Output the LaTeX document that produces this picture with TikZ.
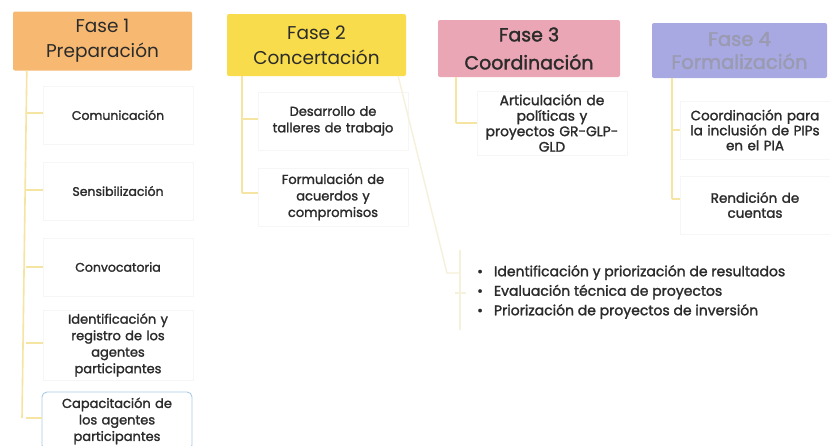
\documentclass[tikz,border=0pt]{standalone}
\usepackage{fontspec}
\setmainfont{Poppins}
\newfontfamily\semib{Poppins}[FakeBold=1.6]
\usetikzlibrary{calc}
\definecolor{cOrange}{HTML}{F7B972}
\definecolor{cYellow}{HTML}{F8DC4C}
\definecolor{cPink}{HTML}{EBA6B5}
\definecolor{cBlue}{HTML}{A8A8E2}
\definecolor{cLine}{HTML}{F6E4A2}
\definecolor{cFaint}{HTML}{F6F1DA}
\definecolor{cBoxEdge}{HTML}{F6F6F6}
\definecolor{cCapEdge}{HTML}{A9CBE6}
\definecolor{cText}{HTML}{2B2B2B}
\definecolor{cHdr4}{HTML}{9A9AB0}
\tikzset{
  hdr/.style={rounded corners=2pt, minimum width=179pt, minimum height=59pt,
    align=center, inner sep=0pt, font=\fontsize{18.5}{25}\selectfont, text=cText},
  child/.style={draw=cBoxEdge, fill=white, minimum width=146pt, minimum height=58pt,
    align=center, inner sep=0pt, text width=150pt, text=cText,
    font=\semib\fontsize{13}{16.5}\selectfont},
  conn/.style={draw=cLine, line width=1.6pt},
  stub/.style={draw=cLine, line width=1.2pt},
  faint/.style={draw=cFaint, line width=1.4pt},
}
\begin{document}
\begin{tikzpicture}[x=1pt,y=-1pt]
\useasboundingbox (0,0) rectangle (830,445);
\fill[white] (0,0) rectangle (830,445);

% headers
\node[hdr, fill=cOrange] (h1) at (102.5,41) {Fase 1\\Preparación};
\node[hdr, fill=cYellow, minimum height=62pt] (h2) at (316.5,45) {Fase 2\\Concertación};
\node[hdr, fill=cPink, minimum width=182pt, minimum height=57pt, font=\semib\fontsize{19}{28}\selectfont] (h3) at (529,48.5) {Fase 3\\Coordinación};
\node[hdr, fill=cBlue, minimum width=175pt, minimum height=55pt, text=cHdr4, font=\semib\fontsize{19.5}{23}\selectfont] (h4) at (739.5,50.5) {Fase 4\\Formalización};

% Fase 1 children
\node[child, font=\semib\fontsize{12.5}{16.5}\selectfont] (c11) at (118,115) {Comunicación};
\node[child, font=\semib\fontsize{12.5}{16.5}\selectfont] (c12) at (118,191) {Sensibilización};
\node[child, font=\semib\fontsize{12.5}{16.5}\selectfont] (c13) at (118,267) {Convocatoria};
\node[child, minimum height=70pt] (c14) at (118,345) {Identificación y\\registro de los\\agentes\\participantes};
\node[child, draw=cCapEdge, line width=0.9pt, rounded corners=5pt, minimum height=58pt] (c15) at (117,421) {Capacitación de\\los agentes\\participantes};

\coordinate (v1a) at ($(h1.south west)+(14,0)$);
\coordinate (v1b) at (22,418);
\draw[conn] (v1a) -- (v1b);
\foreach \c/\y in {c11/113,c12/190,c13/267,c14/343,c15/418}{
  \draw[stub] (26,\y) -- (\c.west |- 0,\y);
}

% Fase 2 children
\node[child] (c21) at (333,121) {Desarrollo de\\talleres de trabajo};
\node[child] (c22) at (333,197) {Formulación de\\acuerdos y\\compromisos};
\coordinate (v2a) at (242,76);
\coordinate (v2b) at (242,193);
\draw[conn] (v2a) -- (v2b);
\draw[stub] (242,119) -- (c21.west |- 0,119);
\draw[stub] (242,193) -- (c22.west |- 0,193);

% Fase 3 child
\node[child, minimum height=64pt, font=\semib\fontsize{13.8}{15.5}\selectfont] (c31) at (552,123) {Articulación de\\políticas y\\proyectos GR-GLP-\\GLD};
\draw[conn] (456,77) -- (456,123);
\draw[stub] (456,123) -- (c31.west |- 0,123);

% Fase 4 children
\node[child, minimum width=142pt, font=\semib\fontsize{13.5}{15}\selectfont] (c41) at (755,130) {Coordinación para\\la inclusión de PIPs\\en el PIA};
\node[child, minimum width=142pt, font=\semib\fontsize{13.5}{15}\selectfont] (c42) at (755,205) {Rendición de\\cuentas};
\draw[conn] (672,78) -- (672,199);
\draw[stub] (672,130) -- (c41.west |- 0,130);
\draw[stub] (672,199) -- (c42.west |- 0,199);

% bullet list
\node[anchor=north west, inner sep=0pt, align=left, text=cText,
  font=\semib\fontsize{14}{19.5}\selectfont] (bl) at (477,265)
  {\textbullet\hspace{11pt}Identificación y priorización de resultados\\
   \textbullet\hspace{11pt}Evaluación técnica de proyectos\\
   \textbullet\hspace{11pt}Priorización de proyectos de inversión};
\coordinate (d0) at ($(h2.south east)+(-8,0)$);
\coordinate (d1) at (447,273);
\draw[faint] (d0) -- (d1) -- (460,273);
\draw[faint] (460,250) -- (460,330);
\draw[faint] (455,293) -- (466,293);
\end{tikzpicture}
\end{document}
